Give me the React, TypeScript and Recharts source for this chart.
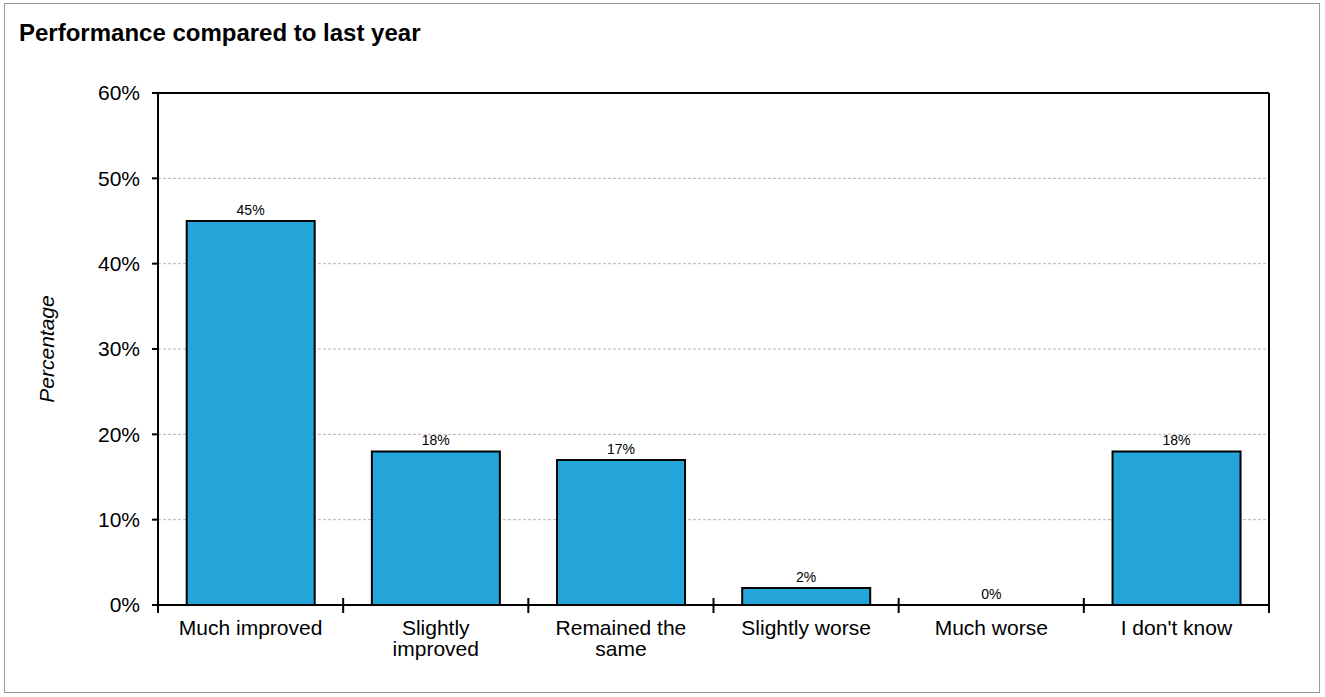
import { ComposedChart, Bar, Line, XAxis, YAxis, CartesianGrid, ReferenceLine, LabelList } from 'recharts'

const FONT = '"Liberation Sans", Arial, Helvetica, sans-serif'

const categories = ['Much improved', 'Slightly improved', 'Remained the same', 'Slightly worse', 'Much worse', "I don't know"]
// how each category label is broken onto lines under the axis
const categoryLines = [['Much improved'], ['Slightly', 'improved'], ['Remained the', 'same'], ['Slightly worse'], ['Much worse'], ["I don't know"]]
const percentages = [45, 18, 17, 2, 0, 18]
const yTicks = [0, 10, 20, 30, 40, 50, 60]

const data = categories.map((name, i) => ({ name, value: percentages[i] }))

const W = 1325
const H = 697
const MARGIN = { top: 93, right: 55, bottom: 22, left: 10 }
const Y_AXIS_W = 148
const RIGHT_AXIS_W = 1
const TICK_GAP = 15
const BAND = (W - MARGIN.left - MARGIN.right - Y_AXIS_W - RIGHT_AXIS_W) / categories.length

function CategoryTick({ x, y, index }: any) {
  const lines = categoryLines[index] ?? []
  const axisY = y - TICK_GAP
  const edges = index === categories.length - 1 ? [x - BAND / 2, x + BAND / 2] : [x - BAND / 2]
  return (
    <g>
      {edges.map((ex, i) => (
        <line key={i} x1={ex} x2={ex} y1={axisY - 7} y2={axisY + 8} stroke="#000" strokeWidth={2} />
      ))}
      <text x={x} y={y} textAnchor="middle" fontSize={21} fontFamily={FONT} fill="#000">
        {lines.map((l, i) => (
          <tspan key={i} x={x} dy={i === 0 ? '0.71em' : '1em'}>{l}</tspan>
        ))}
      </text>
    </g>
  )
}

function AxisTitle({ viewBox }: any) {
  const cx = viewBox.x + 37
  const cy = viewBox.y + viewBox.height / 2
  return (
    <text x={cx} y={cy} dy="0.35em" textAnchor="middle" transform={`rotate(-90, ${cx}, ${cy})`} fontSize={21} fontStyle="italic" fontFamily={FONT} fill="#000">
      Percentage
    </text>
  )
}

export default function App() {
  return (
    <div style={{ position: 'absolute', left: 0, top: 0, width: W, height: H, background: '#fff', fontFamily: FONT }}>
      <div style={{ position: 'absolute', left: 4, top: 3, width: 1316, height: 690, boxSizing: 'border-box', border: '1px solid #9a9a9a' }} />
      <div style={{ position: 'absolute', left: 19, top: 21, fontSize: 24, lineHeight: '24px', fontWeight: 'bold', color: '#000' }}>
        Performance compared to last year
      </div>
      <div style={{ position: 'absolute', left: 0, top: 0 }}>
        <ComposedChart width={W} height={H} data={data} margin={MARGIN} barCategoryGap="15.5%">
          <CartesianGrid xAxisId="cat" yAxisId="left" vertical={false} stroke="#b5b5b5" strokeDasharray="3 2" />
          <XAxis xAxisId="cat" dataKey="name" height={70} axisLine={{ stroke: '#000', strokeWidth: 2 }} tickLine={false} tickSize={0} tickMargin={TICK_GAP} interval={0} tick={<CategoryTick />} />
          <YAxis yAxisId="left" domain={[0, 60]} ticks={yTicks} width={Y_AXIS_W} tickFormatter={(v) => `${v}%`} tick={{ fontSize: 21, fill: '#000', fontFamily: FONT }} tickSize={6} tickMargin={12} axisLine={{ stroke: '#000', strokeWidth: 2 }} tickLine={{ stroke: '#000', strokeWidth: 2 }} label={<AxisTitle />} />
          <YAxis yAxisId="right" orientation="right" domain={[0, 60]} width={RIGHT_AXIS_W} tick={false} tickLine={false} axisLine={{ stroke: '#000', strokeWidth: 2 }} />
          <ReferenceLine xAxisId="cat" yAxisId="left" y={60} stroke="#000" strokeWidth={2} />
          <Bar xAxisId="cat" yAxisId="left" dataKey="value" fill="#23A5DA" stroke="#000" strokeWidth={2} isAnimationActive={false} />
          <Line xAxisId="cat" yAxisId="left" dataKey="value" stroke="none" dot={false} activeDot={false} isAnimationActive={false}>
            <LabelList dataKey="value" position="top" offset={6} formatter={(v: any) => `${v}%`} style={{ fontSize: 14, fill: '#000', fontFamily: FONT }} />
          </Line>
        </ComposedChart>
      </div>
    </div>
  )
}
